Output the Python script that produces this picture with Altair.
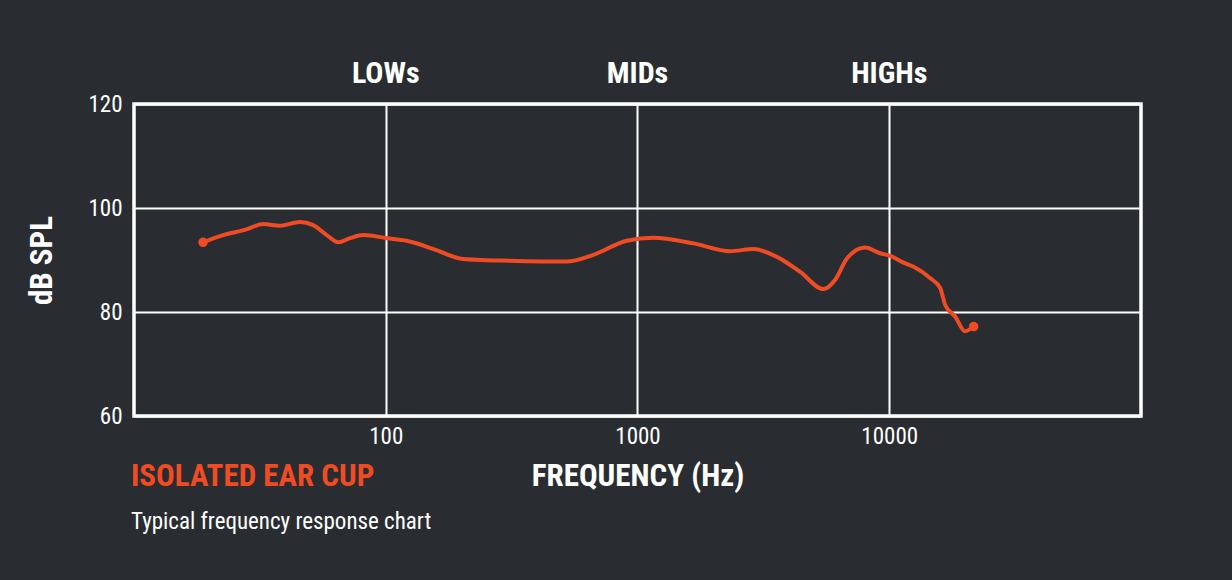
import altair as alt
import pandas as pd

# Frequency response (Hz, dB SPL)
freq = [18.8, 22.6, 27.6, 32.7, 38, 45.6, 51.5, 58.3, 64.8, 72.1, 81.5, 101, 121, 155, 197,
        237, 285, 523, 668, 906, 1157, 1667, 2336, 2890, 3580, 4430, 5480, 6100, 6790,
        8020, 9200, 10090, 11400, 12500, 14560, 15940, 16700, 18300, 20000, 21640]
spl = [93.4, 94.8, 95.8, 96.9, 96.6, 97.3, 96.7, 94.8, 93.4, 94.2, 94.8, 94.2, 93.7, 92.1, 90.3,
       90.0, 89.9, 89.7, 91.0, 93.7, 94.3, 93.2, 91.7, 92.1, 90.6, 87.7, 84.4, 86.2, 90.3,
       92.4, 91.3, 90.8, 89.5, 88.7, 86.5, 84.6, 81.3, 79.1, 76.3, 77.2]

band_freq = [100, 1000, 10000]
band_labels = ["LOWs", "MIDs", "HIGHs"]
x_ticks = [100, 1000, 10000]
y_ticks = [60, 80, 100, 120]

title_text = "ISOLATED EAR CUP"
subtitle_text = "Typical frequency response chart"

FONT = "Roboto Condensed, Liberation Sans Narrow, Roboto, sans-serif"
BG = "#292d31"
ORANGE = "#f04b23"
WHITE = "#ffffff"

df = pd.DataFrame({"freq": freq, "spl": spl})
ends = pd.DataFrame({"freq": [freq[0], freq[-1]], "spl": [spl[0], spl[-1]]})
bands = pd.DataFrame({"freq": band_freq, "label": band_labels})

xscale = alt.Scale(type="log", domain=[10, 100000], nice=False)
yscale = alt.Scale(domain=[60, 120], nice=False, zero=False)

xaxis = alt.Axis(values=x_ticks, format="d", title="FREQUENCY (Hz)", ticks=False, domain=False,
                 grid=True, gridColor=WHITE, gridWidth=2, labelColor=WHITE, labelFont=FONT,
                 labelFontSize=23, labelPadding=9, titleColor=WHITE, titleFont=FONT,
                 titleFontSize=31, titleFontWeight="bold", titleY=60, titleBaseline="middle")
yaxis = alt.Axis(values=y_ticks, title="dB SPL", ticks=False, domain=False, grid=True,
                 gridColor=WHITE, gridWidth=2, labelColor=WHITE, labelFont=FONT, labelFontSize=23,
                 labelPadding=12, titleColor=WHITE, titleFont=FONT, titleFontSize=31,
                 titleFontWeight="bold", titleX=-92, titleY=156, titleBaseline="middle", titleAngle=270)

line = alt.Chart(df).mark_line(color=ORANGE, strokeWidth=4, interpolate="monotone").encode(
    x=alt.X("freq:Q", scale=xscale, axis=xaxis),
    y=alt.Y("spl:Q", scale=yscale, axis=yaxis),
)

dots = alt.Chart(ends).mark_circle(color=ORANGE, size=90, opacity=1).encode(
    x=alt.X("freq:Q", scale=xscale),
    y=alt.Y("spl:Q", scale=yscale),
)

band_text = alt.Chart(bands).mark_text(color=WHITE, font=FONT, fontSize=30, fontWeight="bold",
                                        baseline="middle", align="center").encode(
    x=alt.X("freq:Q", scale=xscale),
    y=alt.value(-30),
    text="label:N",
)

title_mark = alt.Chart(pd.DataFrame({"t": [title_text]})).mark_text(
    color=ORANGE, font=FONT, fontSize=31, fontWeight="bold", align="left", baseline="middle"
).encode(x=alt.value(-3), y=alt.value(373), text="t:N")

sub_mark = alt.Chart(pd.DataFrame({"t": [subtitle_text]})).mark_text(
    color=WHITE, font=FONT, fontSize=23, align="left", baseline="middle"
).encode(x=alt.value(-3), y=alt.value(418), text="t:N")

chart = alt.layer(line, dots, band_text, title_mark, sub_mark).properties(
    width=1007, height=312,
    background=BG,
    padding={"left": 134, "top": 104, "right": 91, "bottom": 164},
    autosize=alt.AutoSizeParams(type="none"),
).configure_view(stroke=WHITE, strokeWidth=3.5)

chart.save("out.html", embed_options={"renderer": "svg", "actions": False})
